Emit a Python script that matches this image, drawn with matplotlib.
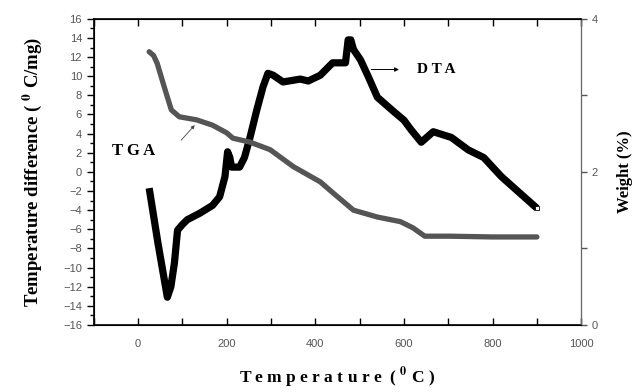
import matplotlib.pyplot as plt
from matplotlib.ticker import MultipleLocator, FixedLocator
import numpy as np

# DTA curve (left axis, temperature difference)
dta_t = [25, 45, 66, 74, 82, 89, 100, 111, 140, 168, 184, 196, 202, 207, 211, 229, 240,
         252, 268, 282, 293, 305, 327, 366, 384, 411, 439, 468, 474, 480, 486, 502, 520,
         540, 577, 600, 616, 639, 666, 707, 745, 780, 820, 866, 900]
dta_v = [-1.7, -7.5, -13.1, -12.0, -9.5, -6.1, -5.5, -5.0, -4.3, -3.5, -2.6, -0.5, 2.1, 1.5, 0.5, 0.5, 1.5,
         3.5, 6.5, 8.9, 10.3, 10.1, 9.4, 9.7, 9.5, 10.1, 11.4, 11.4, 13.8, 13.8, 12.8, 11.7, 9.9,
         7.8, 6.3, 5.4, 4.4, 3.1, 4.2, 3.6, 2.3, 1.5, -0.5, -2.4, -3.8]

# TGA curve (right axis, weight)
tga_t = [25, 35, 43, 59, 75, 93, 132, 168, 200, 214, 252, 298, 350, 411, 441, 486, 540,
         592, 620, 647, 703, 800, 900]
tga_w = [3.57, 3.52, 3.42, 3.11, 2.81, 2.72, 2.68, 2.61, 2.51, 2.44, 2.39, 2.29, 2.07, 1.87, 1.72, 1.50, 1.41,
         1.35, 1.27, 1.16, 1.16, 1.15, 1.15]

serif = ['Liberation Serif', 'DejaVu Serif']
plt.rcParams['font.family'] = ['Liberation Sans', 'DejaVu Sans']
plt.rcParams['mathtext.fontset'] = 'stix'

fig = plt.figure(figsize=(6.38, 3.92), dpi=100)
ax = fig.add_axes([0.147, 0.171, 0.764, 0.781])
ax2 = ax.twinx()

ax.plot(dta_t, dta_v, color='black', lw=5.2, solid_capstyle='butt', solid_joinstyle='round')
ax.plot([dta_t[-1]], [dta_v[-1]], marker='s', ms=3, mfc='white', mec='black', mew=0.6)
ax2.plot(tga_t, tga_w, color='#555555', lw=3.8, solid_capstyle='round', solid_joinstyle='round')

ax.set_xlim(-100, 1000)
ax.set_ylim(-16, 16)
ax2.set_ylim(0, 4)

tick_gray = '#555555'
ax.set_xticks(np.arange(-100, 1001, 100))
ax.set_xticklabels(['' if v % 200 or v < 0 else str(v) for v in range(-100, 1001, 100)])
ax.yaxis.set_major_locator(MultipleLocator(2))
ax.yaxis.set_minor_locator(MultipleLocator(1))
ax.tick_params(axis='x', which='both', direction='in', length=5, top=True, width=1,
               labelsize=8, labelcolor=tick_gray, pad=10)
ax.tick_params(axis='y', which='major', direction='out', length=5, width=1,
               labelsize=8, labelcolor=tick_gray)
ax.tick_params(axis='y', which='minor', direction='out', length=3, width=1)

ax2.yaxis.set_major_locator(FixedLocator([0, 1, 2, 3, 4]))
ax2.set_yticklabels(['0', '', '2', '', '4'])
ax2.tick_params(axis='y', direction='out', length=4, width=1, colors=tick_gray,
                labelsize=8)
ax2.spines['right'].set_color('#666666')

for s in ['left', 'bottom', 'top']:
    ax.spines[s].set_linewidth(1.2)

ax.set_xlabel('T e m p e r a t u r e  ( $^{\\mathbf{0}}$ C )', family=serif,
              fontweight='bold', fontsize=12.5, labelpad=12)
ax.set_ylabel('Temperature difference ( $^{\\mathbf{0}}$ C/mg)', family=serif,
              fontweight='bold', fontsize=13.5, labelpad=14)
ax2.set_ylabel('Weight (%)', family=serif, fontweight='bold', fontsize=12,
               labelpad=14)

ax.text(-10, 2.2, 'T G A', family=serif, fontweight='bold', fontsize=12,
        ha='center', va='center')
ax.annotate('', xy=(132, 5.1), xytext=(93, 3.1),
            arrowprops=dict(arrowstyle='-|>', color='#444444', lw=0.6,
                            mutation_scale=5))
ax.text(673, 10.7, 'D T A', family=serif, fontweight='bold', fontsize=11,
        ha='center', va='center')
ax.annotate('', xy=(595, 10.7), xytext=(520, 10.7),
            arrowprops=dict(arrowstyle='-|>', color='black', lw=0.7,
                            mutation_scale=6))

fig.savefig('out.png', dpi=100)
